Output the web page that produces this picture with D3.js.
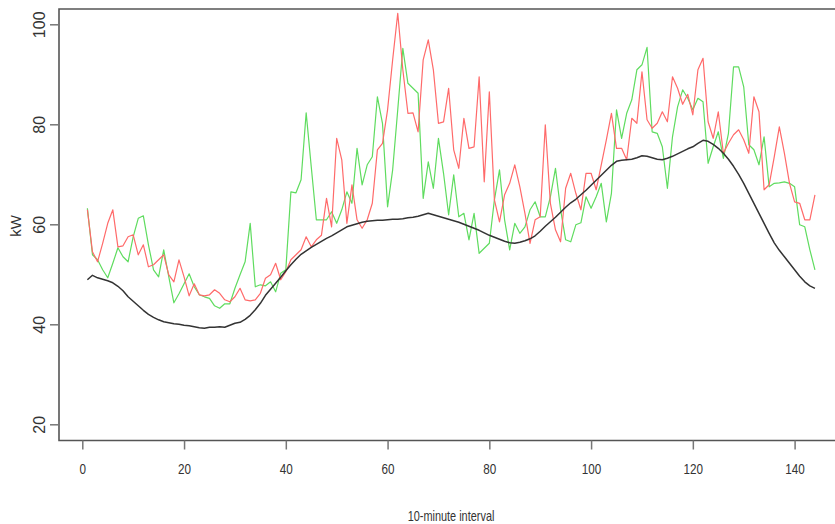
<!DOCTYPE html>
<html>
<head>
<meta charset="utf-8">
<script src="https://cdn.jsdelivr.net/npm/d3@7"></script>
<style>
  body { margin: 0; background: #fff; }
</style>
</head>
<body>
<div id="chart"></div>
<script>
const widthChart = 835;
const heightChart = 524;

// x tick labels and y tick labels
const xTicks = [0, 20, 40, 60, 80, 100, 120, 140];
const yTicks = [20, 40, 60, 80, 100];

// 10-minute intervals of the day
const intervals = d3.range(1, 145);

const redValues = [62.9, 54.5, 52.5, 56.2, 60.2, 62.9, 55.5, 55.7, 57.5, 57.9,
    53.9, 55.9, 51.5, 51.9, 52.9, 53.9, 49.9, 48.5, 52.9, 49.5,
    45.7, 48.1, 45.9, 45.7, 45.9, 46.9, 46.2, 44.9, 44.5, 45.5,
    47.2, 44.9, 44.7, 44.9, 46.2, 49.2, 49.9, 52.2, 48.9, 50.5,
    52.9, 53.9, 54.9, 57.5, 55.5, 56.9, 57.8, 65.2, 59.5, 77.2,
    72.9, 60.2, 67.9, 60.9, 59.2, 60.9, 64.2, 74.9, 76.2, 82.9,
    92.9, 102.2, 90.9, 82.2, 82.3, 78.5, 92.9, 96.9, 90.9, 80.2,
    80.5, 87.2, 74.9, 71.2, 81.2, 75.2, 75.5, 89.5, 68.5, 86.5,
    64.9, 60.5, 65.9, 68.2, 71.9, 67.5, 62.2, 56.2, 60.9, 61.5,
    79.9, 64.2, 58.9, 56.5, 67.2, 70.2, 66.2, 62.9, 70.2, 70.2,
    66.9, 71.9, 76.9, 82.2, 75.2, 75.2, 72.9, 81.2, 80.2, 90.5,
    80.9, 79.2, 80.2, 82.5, 80.5, 89.5, 87.2, 84.0, 86.0, 81.9,
    90.9, 93.2, 80.5, 77.2, 82.5, 74.2, 76.2, 77.9, 78.9, 76.9,
    74.2, 85.5, 82.5, 66.9, 67.9, 73.5, 79.5, 74.2, 68.2, 64.5,
    64.2, 60.9, 60.9, 65.9];

const greenValues = [63.2, 53.9, 52.9, 50.9, 49.3, 52.2, 55.3, 53.5, 52.5, 57.5,
    61.2, 61.7, 55.9, 50.9, 49.5, 54.9, 49.5, 44.3, 46.1, 48.1,
    50.1, 47.5, 45.9, 45.5, 45.2, 43.7, 43.2, 44.1, 44.1, 47.2,
    49.9, 52.5, 60.2, 47.5, 47.9, 47.7, 48.5, 46.5, 50.2, 50.9,
    66.5, 66.3, 68.9, 82.3, 71.5, 60.9, 60.9, 60.9, 62.5, 60.2,
    62.9, 66.5, 64.2, 75.2, 67.9, 71.9, 73.5, 85.5, 80.2, 63.5,
    70.9, 82.9, 95.2, 88.2, 87.2, 86.2, 65.2, 72.5, 67.2, 77.2,
    70.2, 61.9, 69.9, 61.5, 62.2, 56.9, 62.2, 54.2, 55.2, 56.2,
    64.9, 70.9, 60.9, 54.9, 60.2, 58.2, 59.5, 62.9, 64.5, 61.5,
    61.5, 65.5, 71.2, 63.0, 56.9, 56.5, 59.9, 60.3, 65.5, 63.2,
    65.5, 68.2, 60.5, 66.2, 82.9, 77.2, 82.2, 84.9, 90.9, 91.9,
    95.4, 78.5, 78.2, 75.5, 67.2, 77.5, 83.5, 86.9, 85.2, 82.9,
    85.2, 84.5, 72.2, 75.5, 78.5, 73.2, 78.2, 91.5, 91.5, 87.5,
    75.9, 74.9, 71.9, 77.5, 67.5, 68.2, 68.3, 68.5, 68.2, 67.5,
    59.9, 59.5, 54.9, 50.9];

const blackValues = [48.9, 49.8, 49.3, 49.0, 48.7, 48.3, 47.6, 46.7, 45.5, 44.6,
    43.7, 42.8, 42.0, 41.4, 40.9, 40.5, 40.3, 40.1, 40.0, 39.8,
    39.7, 39.5, 39.3, 39.2, 39.4, 39.4, 39.5, 39.4, 39.8, 40.2,
    40.4, 41.0, 41.8, 42.9, 44.2, 45.8, 47.0, 48.2, 49.4, 50.7,
    51.9, 53.0, 54.0, 54.7, 55.4, 56.0, 56.6, 57.2, 57.7, 58.3,
    58.9, 59.5, 59.8, 60.1, 60.4, 60.6, 60.7, 60.8, 60.8, 60.9,
    61.0, 61.0, 61.1, 61.3, 61.4, 61.6, 61.9, 62.2, 61.9, 61.6,
    61.3, 61.0, 60.7, 60.4, 60.0, 59.6, 59.2, 58.8, 58.3, 57.8,
    57.4, 57.0, 56.6, 56.3, 56.2, 56.4, 56.7, 57.1, 57.7, 58.6,
    59.6, 60.5, 61.4, 62.4, 63.4, 64.3, 65.0, 65.9, 66.8, 67.8,
    68.8, 69.8, 70.8, 71.8, 72.6, 72.8, 72.9, 73.0, 73.3, 73.7,
    73.6, 73.3, 73.0, 72.9, 73.2, 73.6, 74.1, 74.6, 75.1, 75.5,
    76.2, 76.8, 76.6, 76.0, 75.2, 74.2, 73.0, 71.6, 70.0, 68.2,
    66.2, 64.2, 62.2, 60.2, 58.2, 56.3, 54.8, 53.5, 52.2, 50.9,
    49.6, 48.5, 47.7, 47.2];

const plotLeft = 59;
const plotTop = 9;
const plotBottom = 440.5;

const svg = d3.select("#chart")
    .append("svg")
    .attr("width", widthChart)
    .attr("height", heightChart);

var x = d3.scaleLinear()
    .domain([0, 140])
    .range([82.3, 794.6]);

var y = d3.scaleLinear()
    .domain([20, 100])
    .range([424.3, 24.3]);

// box (right side falls outside the picture)
svg.append("path")
    .attr("d", "M" + (widthChart + 5) + "," + plotTop + "H" + plotLeft + "V" + plotBottom + "H" + (widthChart + 5))
    .attr("fill", "none")
    .attr("stroke", "#555")
    .attr("stroke-width", 1.6);

// x axis, labels squeezed horizontally like the original
const xAxis = svg.append("g")
    .attr("transform", "translate(0," + plotBottom + ")")
    .call(d3.axisBottom(x).tickValues(xTicks).tickSize(9).tickPadding(14).tickFormat(d3.format("d")));
xAxis.select(".domain").remove();
xAxis.selectAll(".tick line").attr("stroke", "#777").attr("stroke-width", 1.5);
xAxis.selectAll(".tick text")
    .attr("fill", "#333")
    .attr("transform", "scale(0.78,1)")
    .style("font-family", "'Liberation Sans', Arial, sans-serif")
    .style("font-size", "15px");

// y axis
const yAxis = svg.append("g")
    .attr("transform", "translate(" + plotLeft + ",0)")
    .call(d3.axisLeft(y).tickValues(yTicks).tickSize(9).tickFormat(d3.format("d")));
yAxis.select(".domain").remove();
yAxis.selectAll(".tick line").attr("stroke", "#777").attr("stroke-width", 1.5);
yAxis.selectAll(".tick text")
    .attr("fill", "#333")
    .attr("x", null)
    .attr("dy", null)
    .attr("transform", "translate(-20,0) rotate(-90)")
    .attr("text-anchor", "middle")
    .attr("dominant-baseline", "central")
    .style("font-family", "'Liberation Sans', Arial, sans-serif")
    .style("font-size", "16px");

// axis titles
svg.append("text")
    .attr("transform", "translate(451,517) scale(0.78,1)")
    .attr("text-anchor", "middle")
    .attr("dominant-baseline", "central")
    .attr("fill", "#333")
    .style("font-family", "'Liberation Sans', Arial, sans-serif")
    .style("font-size", "14px")
    .text("10-minute interval");

svg.append("text")
    .attr("transform", "translate(15,226) rotate(-90)")
    .attr("text-anchor", "middle")
    .attr("dominant-baseline", "central")
    .attr("fill", "#333")
    .style("font-family", "'Liberation Sans', Arial, sans-serif")
    .style("font-size", "15px")
    .text("kW");

// lines
function drawLine(values, color, width) {
    var line = d3.line()
        .x((d, i) => x(intervals[i]))
        .y(d => y(d));
    svg.append("path")
        .datum(values)
        .attr("d", line)
        .attr("fill", "none")
        .attr("stroke", color)
        .attr("stroke-width", width)
        .attr("stroke-linejoin", "round");
}

drawLine(greenValues, "#5fdc5f", 1.2);
drawLine(redValues, "#ff6a6a", 1.2);
drawLine(blackValues, "#333333", 1.5);
</script>
</body>
</html>
